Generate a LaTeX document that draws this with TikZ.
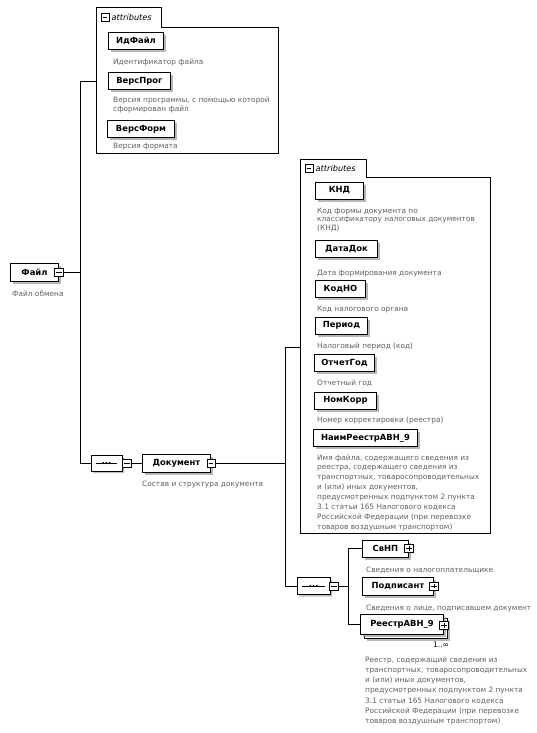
\documentclass[tikz,border=0pt]{standalone}
\usepackage{fontspec}
\setmainfont{DejaVu Sans}
\usetikzlibrary{shadows,shapes.misc}
\tikzset{
  elem/.style={draw, fill=white, line width=0.9pt, font=\bfseries\fontsize{8.4}{10}\selectfont,
    inner xsep=5pt, inner ysep=0pt, minimum height=17pt, anchor=west,
    drop shadow={shadow xshift=2.5pt, shadow yshift=-2.5pt, fill=black!35, opacity=0.8}},
  desc/.style={font=\fontsize{7.4}{9.6}\selectfont, text=black!62, inner sep=0pt, align=left, anchor=base west},
  signbox/.style={draw, fill=white, line width=0.7pt, minimum width=8pt, minimum height=8pt, inner sep=0pt},
  minusbox/.style={signbox, path picture={\draw[line width=0.7pt] ([xshift=1.6pt]path picture bounding box.west) -- ([xshift=-1.6pt]path picture bounding box.east);}},
  plusbox/.style={signbox, path picture={\draw[line width=0.7pt] ([xshift=1.6pt]path picture bounding box.west) -- ([xshift=-1.6pt]path picture bounding box.east) ([yshift=1.6pt]path picture bounding box.south) -- ([yshift=-1.6pt]path picture bounding box.north);}},
  grpline/.style={line width=0.8pt},
  conn/.style={line width=0.8pt},
  seqbox/.style={chamfered rectangle, chamfered rectangle xsep=4pt, draw, fill=white, line width=0.8pt, inner sep=0pt,
    drop shadow={shadow xshift=2pt, shadow yshift=-2pt, fill=black!30, opacity=0.8}},
  tabtext/.style={font=\itshape\fontsize{8.2}{10}\selectfont, inner sep=0pt, anchor=west},
  grpnode/.style={inner sep=0pt, anchor=north west},
}
\begin{document}
\begin{tikzpicture}[x=1pt,y=-1pt]
\useasboundingbox (0,0) rectangle (536,733);
\fill[white] (0,0) rectangle (536,733);

% ---------- group 1 ----------
\node[grpnode, minimum width=182pt, minimum height=126pt] (g1) at (96,27) {};
\node[inner sep=0pt, anchor=south west, minimum width=65pt, minimum height=19pt] (g1tab) at (g1.north west) {};
\draw[grpline] (g1.south west) -- (g1tab.north west) -- (g1tab.north east) -- (g1tab.south east) -- (g1.north east) -- (g1.south east) -- cycle;
\node[minusbox] (g1icon) at (105,17.5) {};
\node[tabtext] (g1lbl) at (111.5,17.5) {attributes};

\node[elem, minimum width=55pt] (idfile) at (108,41) {ИдФайл};
\node[desc] (idfiled) at (113,65) {Идентификатор файла};
\node[elem, minimum width=62pt] (versprog) at (108,81) {ВерсПрог};
\node[desc, font=\fontsize{7.4}{8.6}\selectfont] (versprogd) at (113,111.6) {Версия программы, с помощью которой\\сформирован файл};
\node[elem, minimum width=67pt] (versform) at (107,129) {ВерсФорм};
\node[desc] (versformd) at (113,149) {Версия формата};

% ---------- group 2 ----------
\node[grpnode, minimum width=190pt, minimum height=356pt] (g2) at (300,177) {};
\node[inner sep=0pt, anchor=south west, minimum width=66pt, minimum height=17pt] (g2tab) at (g2.north west) {};
\draw[grpline] (g2.south west) -- (g2tab.north west) -- (g2tab.north east) -- (g2tab.south east) -- (g2.north east) -- (g2.south east) -- cycle;
\node[minusbox] (g2icon) at (309,168.5) {};
\node[tabtext] (g2lbl) at (315.5,168.5) {attributes};

\node[elem, minimum width=48pt] (knd) at (315,190.5) {КНД};
\node[desc, font=\fontsize{7.4}{8.8}\selectfont] (kndd) at (317,230.6) {Код формы документа по\\классификатору налоговых документов\\(КНД)};
\node[elem, minimum width=62pt] (datadok) at (315,249) {ДатаДок};
\node[desc] (datadokd) at (317,275) {Дата формирования документа};
\node[elem, minimum width=50pt] (kodno) at (315,289) {КодНО};
\node[desc] (kodnod) at (317,311) {Код налогового органа};
\node[elem, minimum width=52pt] (period) at (315,325.5) {Период};
\node[desc] (periodd) at (317,348) {Налоговый период (код)};
\node[elem, minimum width=60pt] (otchgod) at (314,362.5) {ОтчетГод};
\node[desc] (otchgodd) at (317,385) {Отчетный год};
\node[elem, minimum width=62pt] (nomkorr) at (314,400.5) {НомКорр};
\node[desc] (nomkorrd) at (317,422) {Номер корректировки (реестра)};
\node[elem, minimum width=104pt] (naim) at (313,438) {НаимРеестрАВН\_9};
\node[desc, font=\fontsize{7.4}{9.9}\selectfont] (naimd) at (317,529.3) {Имя файла, содержащего сведения из\\реестра, содержащего сведения из\\транспортных, товаросопроводительных\\и (или) иных документов,\\предусмотренных подпунктом 2 пункта\\3.1 статьи 165 Налогового кодекса\\Российской Федерации (при перевозке\\товаров воздушным транспортом)};

% ---------- root ----------
\node[elem, minimum width=48pt, minimum height=18pt] (file) at (10,272.5) {Файл};
\node[minusbox, minimum width=9pt] (filem) at (file.east) {};
\node[desc] (filed) at (12,296) {Файл обмена};

\coordinate (v1top) at (80,81);
\coordinate (v1bot) at (80,463);
\coordinate (v1file) at (v1top |- filem.east);
\draw[conn] (v1top) -- (v1bot);
\draw[conn] (v1top) -- (v1top -| g1.west);
\draw[conn] (filem.east) -- (v1file);

% sequence 1
\node[seqbox, minimum width=31pt, minimum height=16pt] (seq1) at (106.5,463) {};
\draw[conn] ([xshift=5pt]seq1.west) -- ([xshift=-5pt]seq1.east);
\foreach \dx in {-3.2,0,3.2} \fill ([xshift=\dx pt]seq1.center) circle (1.2pt);
\node[minusbox, minimum width=9pt] (seq1m) at (127,463) {};
\draw[conn] (v1bot) -- (seq1.west);

\node[elem, minimum width=68pt, minimum height=18pt] (doc) at (142,463) {Документ};
\node[minusbox] (docm) at (doc.east) {};
\node[desc] (docd) at (142,486) {Состав и структура документа};
\draw[conn] (seq1m.east) -- (doc.west);

\coordinate (v2top) at (285,347);
\coordinate (v2bot) at (285,586);
\coordinate (v2doc) at (v2top |- docm.east);
\draw[conn] (v2top) -- (v2bot);
\draw[conn] (docm.east) -- (v2doc);
\draw[conn] (v2top) -- (v2top -| g2.west);

% sequence 2
\node[seqbox, minimum width=33pt, minimum height=17pt] (seq2) at (313.5,586) {};
\draw[conn] ([xshift=5pt]seq2.west) -- ([xshift=-5pt]seq2.east);
\foreach \dx in {-3.2,0,3.2} \fill ([xshift=\dx pt]seq2.center) circle (1.2pt);
\node[minusbox, minimum width=9pt] (seq2m) at (334,586) {};
\draw[conn] (v2bot) -- (seq2.west);

\coordinate (v3top) at (348,548.5);
\coordinate (v3bot) at (348,624.5);
\coordinate (v3mid) at (v3top |- seq2m.east);
\draw[conn] (v3top) -- (v3bot);
\draw[conn] (seq2m.east) -- (v3mid);

\node[elem, minimum width=46pt] (svnp) at (362,548.5) {СвНП};
\node[plusbox, minimum width=9pt] (svnpp) at (svnp.east) {};
\node[desc] (svnpd) at (366,572) {Сведения о налогоплательщике};
\draw[conn] (v3top) -- (svnp.west);

\node[elem, minimum width=71pt, minimum height=18pt] (podp) at (362,586) {Подписант};
\node[plusbox, minimum width=9pt] (podpp) at (podp.east) {};
\node[desc] (podpd) at (366,610) {Сведения о лице, подписавшем документ};

\node[elem, minimum width=83pt, minimum height=20pt] (reestrb) at (364,628.5) {\phantom{РеестрАВН\_9}};
\node[elem, minimum width=83pt, minimum height=20pt] (reestr) at (360,624.5) {РеестрАВН\_9};
\node[plusbox, minimum width=9pt] (reestrp) at ([yshift=-1pt]reestr.east) {};
\node[font=\fontsize{7.6}{9}\selectfont, inner sep=0pt, anchor=base] (mult) at (441,647) {1..∞};
\node[desc, font=\fontsize{7.4}{10.3}\selectfont] (reestrd) at (365,723.8) {Реестр, содержащий сведения из\\транспортных, товаросопроводительных\\и (или) иных документов,\\предусмотренных подпунктом 2 пункта\\3.1 статьи 165 Налогового кодекса\\Российской Федерации (при перевозке\\товаров воздушным транспортом)};
\draw[conn] (v3bot) -- (reestr.west);
\end{tikzpicture}
\end{document}
